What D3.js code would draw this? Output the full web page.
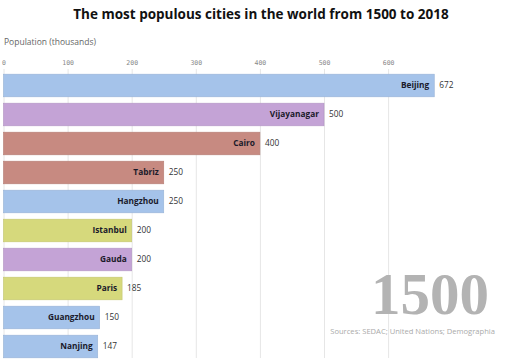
<!DOCTYPE html>
<html><head><meta charset="utf-8">
<script src="https://cdn.jsdelivr.net/npm/d3@7"></script>
<style>body{margin:0;background:#fff}svg{display:block}</style>
</head><body><svg id="c" width="520" height="363"></svg>
<script>
const cities = ["Beijing","Vijayanagar","Cairo","Tabriz","Hangzhou","Istanbul","Gauda","Paris","Guangzhou","Nanjing"];
const populations = [672,500,400,250,250,200,200,185,150,147];
const regions = ["East Asia","South Asia","Middle East","Middle East","East Asia","Europe","South Asia","Europe","East Asia","East Asia"];
const regionNames = ["East Asia","South Asia","Middle East","Europe"];
const regionColors = ["#a5c3ea","#c4a3d6","#c78a81","#d6d97c"];
const ticks = [0,100,200,300,400,500,600];
const year = "1500";
const title = "The most populous cities in the world from 1500 to 2018";
const source = "Sources: SEDAC; United Nations; Demographia";

const svg = d3.select("#c");
const x = d3.scaleLinear().domain([0,700]).range([3.5,452.2]);
const y = d3.scaleBand().domain(cities).range([71,361]).paddingInner(0.22).paddingOuter(0.11);
const color = d3.scaleOrdinal().domain(regionNames).range(regionColors);

svg.append("text").attr("x",261).attr("y",19).attr("text-anchor","middle")
  .attr("font-family","Open Sans, sans-serif").attr("font-weight","bold").attr("font-size",13.5)
  .attr("fill","#111").text(title);
svg.append("text").attr("x",4).attr("y",45)
  .attr("font-family","Open Sans, sans-serif").attr("font-size",8.5).attr("fill","#666")
  .text("Population (thousands)");

const axis = d3.axisTop(x).tickValues(ticks).tickSize(-(358-69)).tickFormat(d3.format("d"));
const g = svg.append("g").attr("transform","translate(0,69)").call(axis);
g.select(".domain").remove();
g.selectAll(".tick line").attr("stroke","#e6e6e6");
g.selectAll(".tick text").attr("font-family","DejaVu Sans Mono, monospace").attr("font-size",6.5)
  .attr("fill","#888").attr("dy","-0.1em");

svg.append("text").attr("x",489).attr("y",314).attr("text-anchor","end")
  .attr("font-family","Liberation Serif, serif").attr("font-weight","bold").attr("font-size",59)
  .attr("fill","#b3b3b3").text(year);
svg.append("text").attr("x",495).attr("y",334).attr("text-anchor","end")
  .attr("font-family","Open Sans, sans-serif").attr("font-size",7.6).attr("fill","#aaa")
  .text(source);

const data = cities.map((c,i)=>({city:c,value:populations[i],region:regions[i]}));
const bars = svg.append("g").selectAll("g").data(data).join("g");
bars.append("rect").attr("x",x(0)).attr("y",d=>y(d.city)).attr("width",d=>x(d.value)-x(0))
  .attr("height",y.bandwidth()).attr("fill",d=>color(d.region))
  .attr("stroke",d=>d3.color(color(d.region)).darker(0.25)).attr("stroke-width",0.6);
bars.append("text").attr("x",d=>x(d.value)-5).attr("y",d=>y(d.city)+y.bandwidth()/2)
  .attr("dy","0.35em").attr("text-anchor","end")
  .attr("font-family","Open Sans, sans-serif").attr("font-weight","bold").attr("font-size",8.3)
  .attr("fill","#1a1a2a").text(d=>d.city);
bars.append("text").attr("x",d=>x(d.value)+5).attr("y",d=>y(d.city)+y.bandwidth()/2)
  .attr("dy","0.35em")
  .attr("font-family","Open Sans, sans-serif").attr("font-size",8.3)
  .attr("fill","#333").text(d=>d.value);
</script></body></html>
